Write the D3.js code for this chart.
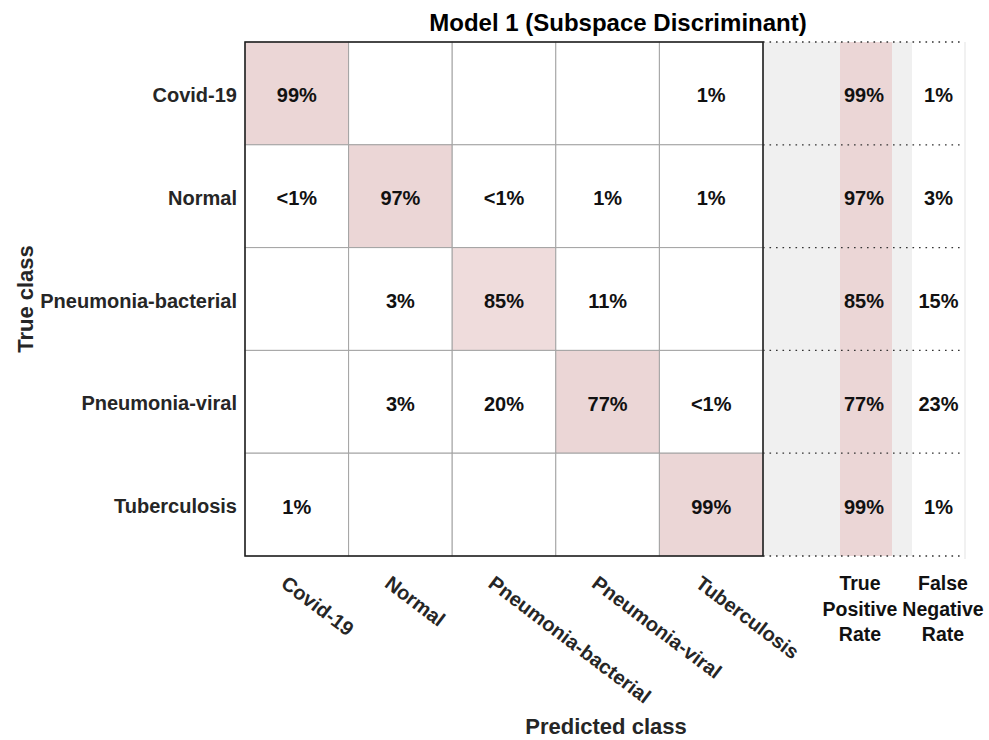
<!DOCTYPE html>
<html>
<head>
<meta charset="utf-8">
<script src="https://cdn.jsdelivr.net/npm/d3@7"></script>
<style>
  html, body { margin: 0; padding: 0; background: #fff; }
  svg { display: block; font-family: "Liberation Sans", Arial, sans-serif; }
</style>
</head>
<body>
<svg id="chart" width="989" height="740"></svg>
<script>
// Class names (rows = true class, columns = predicted class)
const classes = ["Covid-19", "Normal", "Pneumonia-bacterial", "Pneumonia-viral", "Tuberculosis"];

// Row-normalised percentages; null = empty cell, values below 1 print as "<1%"
const rowCovid     = [99, null, null, null, 1];
const rowNormal    = [0.5, 97, 0.5, 1, 1];
const rowBacterial = [null, 3, 85, 11, null];
const rowViral     = [null, 3, 20, 77, 0.5];
const rowTB        = [1, null, null, null, 99];
const matrix = [rowCovid, rowNormal, rowBacterial, rowViral, rowTB];

// Row summary
const truePositiveRate  = [99, 97, 85, 77, 99];
const falseNegativeRate = [1, 3, 15, 23, 1];
const summaryHeaders = [["True", "Positive", "Rate"], ["False", "Negative", "Rate"]];

const title = "Model 1 (Subspace Discriminant)";
const xTitle = "Predicted class";
const yTitle = "True class";

const fmt = v => (v < 1 ? "<1%" : Math.round(v) + "%");

const svg = d3.select("#chart");
const m = { left: 245, right: 763, top: 42, bottom: 556 };

const x = d3.scaleBand().domain(classes).range([m.left, m.right]);
const y = d3.scaleBand().domain(classes).range([m.top, m.bottom]);

const pink = "#EBD6D6", pinkLight = "#EFDCDC", grey = "#F0F0F0";
const diagFill = i => (i === 2 ? pinkLight : pink);

// ---- row summary panel ----
const sumX = d3.scaleOrdinal().domain(["tpr", "fnr"]).range([[840, 892], [912, 964]]);
svg.append("rect").attr("x", m.right).attr("y", m.top).attr("width", 912 - m.right).attr("height", m.bottom - m.top).attr("fill", grey);
svg.append("rect").attr("x", sumX("tpr")[0]).attr("y", m.top).attr("width", sumX("tpr")[1] - sumX("tpr")[0]).attr("height", m.bottom - m.top).attr("fill", pink);
svg.append("line").attr("x1", 965).attr("x2", 965).attr("y1", m.top).attr("y2", m.bottom + 3).attr("stroke", "#ececec").attr("stroke-width", 1.5);

// dotted row separators in the summary panel
const bounds = classes.map(c => y(c)).concat([m.bottom]);
svg.append("g").selectAll("line").data(bounds).join("line")
  .attr("x1", m.right).attr("x2", 962)
  .attr("y1", d => d).attr("y2", d => d)
  .attr("stroke", "#333").attr("stroke-width", 1.3)
  .attr("stroke-dasharray", "1.6,4.9");

const tprCx = (sumX("tpr")[0] + sumX("tpr")[1]) / 2 - 2;
const fnrCx = (sumX("fnr")[0] + sumX("fnr")[1]) / 2 + 0.5;
svg.append("g").selectAll("text").data(truePositiveRate).join("text")
  .attr("x", tprCx).attr("y", (d, i) => y(classes[i]) + y.bandwidth() / 2 + 9)
  .attr("text-anchor", "middle").attr("font-size", 20).attr("font-weight", "bold").attr("fill", "#111")
  .text(d => fmt(d));
svg.append("g").selectAll("text").data(falseNegativeRate).join("text")
  .attr("x", fnrCx).attr("y", (d, i) => y(classes[i]) + y.bandwidth() / 2 + 9)
  .attr("text-anchor", "middle").attr("font-size", 20).attr("font-weight", "bold").attr("fill", "#111")
  .text(d => fmt(d));

// summary headers
const headerX = [860, 943];
summaryHeaders.forEach((lines, k) => {
  const t = svg.append("text").attr("text-anchor", "middle")
    .attr("font-size", 19.5).attr("font-weight", "bold").attr("fill", "#111");
  lines.forEach((ln, j) => {
    t.append("tspan").attr("x", headerX[k]).attr("y", 590 + j * 25.5).text(ln);
  });
});

// ---- matrix cells ----
const cells = [];
matrix.forEach((row, i) => row.forEach((v, j) => cells.push({ i, j, v })));

svg.append("g").selectAll("rect").data(cells).join("rect")
  .attr("x", d => x(classes[d.j])).attr("y", d => y(classes[d.i]))
  .attr("width", x.bandwidth()).attr("height", y.bandwidth())
  .attr("fill", d => (d.i === d.j ? diagFill(d.i) : "#fff"))
  .attr("stroke", "#a3a3a3").attr("stroke-width", 1);

svg.append("g").selectAll("text").data(cells.filter(d => d.v !== null)).join("text")
  .attr("x", d => x(classes[d.j]) + x.bandwidth() / 2)
  .attr("y", d => y(classes[d.i]) + y.bandwidth() / 2 + 9)
  .attr("text-anchor", "middle").attr("font-size", 20).attr("font-weight", "bold").attr("fill", "#111")
  .text(d => fmt(d.v));

// outer frame
svg.append("rect").attr("x", m.left).attr("y", m.top).attr("width", m.right - m.left).attr("height", m.bottom - m.top)
  .attr("fill", "none").attr("stroke", "#1a1a1a").attr("stroke-width", 1.5);

// ---- axes labels ----
svg.append("g").selectAll("text").data(classes).join("text")
  .attr("x", 237).attr("y", d => y(d) + y.bandwidth() / 2 + 8.5)
  .attr("text-anchor", "end").attr("font-size", 20).attr("font-weight", "bold").attr("fill", "#262626")
  .text(d => d);

svg.append("g").selectAll("text").data(classes).join("text")
  .attr("transform", d => `translate(${x(d) + x.bandwidth() / 2 - 17},586) rotate(37)`)
  .attr("text-anchor", "start").attr("font-size", 20).attr("font-weight", "bold").attr("fill", "#262626")
  .text(d => d);

svg.append("text").attr("x", 606).attr("y", 734).attr("text-anchor", "middle")
  .attr("font-size", 22).attr("font-weight", "bold").attr("fill", "#262626").text(xTitle);

svg.append("text").attr("transform", "translate(33,299) rotate(-90)").attr("text-anchor", "middle")
  .attr("font-size", 22).attr("font-weight", "bold").attr("fill", "#262626").text(yTitle);

svg.append("text").attr("x", 618).attr("y", 31).attr("text-anchor", "middle")
  .attr("font-size", 24).attr("font-weight", "bold").attr("fill", "#000").text(title);
</script>
</body>
</html>
